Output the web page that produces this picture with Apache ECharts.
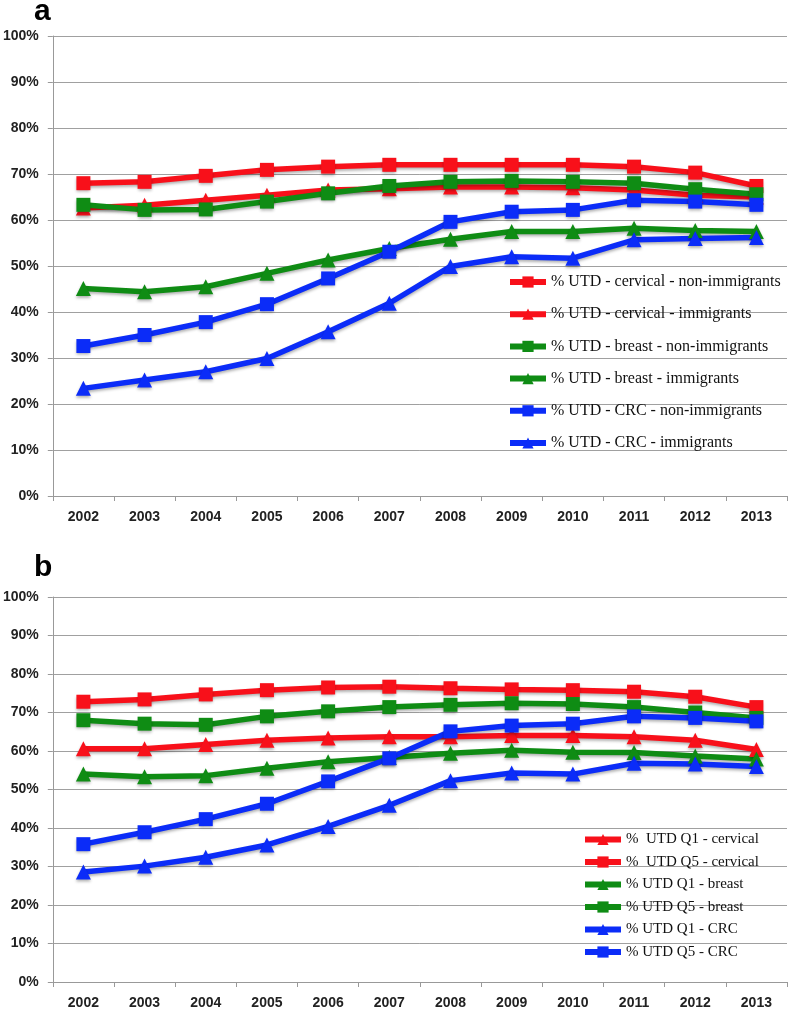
<!DOCTYPE html>
<html>
<head>
<meta charset="utf-8">
<script src="https://cdn.jsdelivr.net/npm/echarts@6/dist/echarts.min.js"></script>
<style>
html,body{margin:0;padding:0;background:#fff;}
#chart{width:788px;height:1010px;}
</style>
</head>
<body>
<div id="chart"></div>
<script>
const years = ['2002','2003','2004','2005','2006','2007','2008','2009','2010','2011','2012','2013'];

// Panel a
const namesA = ['% UTD - cervical - non-immigrants','% UTD - cervical - immigrants','% UTD - breast - non-immigrants','% UTD - breast - immigrants','% UTD - CRC - non-immigrants','% UTD - CRC - immigrants'];
const cervNonImm  = [68.0, 68.3, 69.6, 70.9, 71.6, 72.0, 72.0, 72.0, 72.0, 71.6, 70.3, 67.4];
const cervImm     = [62.6, 63.2, 64.3, 65.4, 66.5, 66.8, 67.2, 67.2, 67.0, 66.5, 65.4, 65.0];
const breastNonImm= [63.3, 62.2, 62.3, 64.0, 65.8, 67.4, 68.3, 68.5, 68.3, 68.0, 66.7, 65.6];
const breastImm   = [45.1, 44.4, 45.5, 48.4, 51.3, 53.8, 55.8, 57.5, 57.5, 58.2, 57.7, 57.5];
const crcNonImm   = [32.6, 35.0, 37.8, 41.7, 47.3, 53.1, 59.6, 61.8, 62.2, 64.3, 64.0, 63.3];
const crcImm      = [23.4, 25.2, 27.0, 29.9, 35.7, 41.9, 49.9, 52.0, 51.7, 55.7, 56.0, 56.2];

// Panel b
const namesB = ['%  UTD Q1 - cervical','%  UTD Q5 - cervical','% UTD Q1 - breast','% UTD Q5 - breast','% UTD Q1 - CRC','% UTD Q5 - CRC'];
const q1Cerv   = [60.6, 60.6, 61.7, 62.8, 63.4, 63.7, 63.7, 64.0, 64.0, 63.7, 62.8, 60.4];
const q5Cerv   = [72.8, 73.4, 74.7, 75.8, 76.5, 76.7, 76.3, 76.0, 75.8, 75.4, 74.1, 71.4];
const q1Breast = [54.0, 53.3, 53.6, 55.5, 57.2, 58.3, 59.4, 60.2, 59.7, 59.6, 58.7, 57.9];
const q5Breast = [68.0, 67.1, 66.8, 69.0, 70.3, 71.4, 72.0, 72.4, 72.2, 71.4, 70.0, 68.6];
const q1Crc    = [28.6, 30.1, 32.4, 35.6, 40.4, 45.9, 52.3, 54.3, 54.0, 56.8, 56.6, 56.0];
const q5Crc    = [35.8, 38.9, 42.3, 46.3, 52.1, 58.1, 65.1, 66.6, 67.1, 69.0, 68.6, 67.7];

const RED = '#f8101a', GREEN = '#0f8c14', BLUE = '#0b2cf8';

function mk(name, data, color, symbol, gi) {
  const isRect = symbol === 'rect';
  return {
    name, type: 'line', data, xAxisIndex: gi, yAxisIndex: gi,
    symbol, symbolSize: isRect ? 14 : 15,
    lineStyle: { color, width: 5.5, shadowColor: 'rgba(0,0,0,0.3)', shadowBlur: 3, shadowOffsetY: 2 },
    itemStyle: { color, shadowColor: 'rgba(0,0,0,0.3)', shadowBlur: 3, shadowOffsetY: 2 },
    emphasis: { disabled: true },
    animation: false
  };
}

const axisLabelFont = { fontFamily: 'Liberation Sans', fontWeight: 'bold', fontSize: 14, color: '#222' };

function xAx(gi) {
  return {
    type: 'category', gridIndex: gi, data: years, boundaryGap: true,
    axisLine: { show: true, lineStyle: { color: '#999', width: 1 } },
    axisTick: { show: true, length: 5, lineStyle: { color: '#999' } },
    axisLabel: Object.assign({ margin: 14 }, axisLabelFont),
    splitLine: { show: false }
  };
}
function yAx(gi) {
  return {
    type: 'value', gridIndex: gi, min: 0, max: 100, interval: 10,
    axisLine: { show: true, lineStyle: { color: '#999', width: 1 } },
    axisTick: { show: true, length: 5, lineStyle: { color: '#999' } },
    axisLabel: Object.assign({ margin: 14, formatter: '{value}%' }, axisLabelFont),
    splitLine: { show: true, lineStyle: { color: '#a0a0a0', width: 1 } }
  };
}

const option = {
  backgroundColor: '#fff',
  animation: false,
  graphic: [
    { type: 'text', left: 34, top: -3, style: { text: 'a', font: 'bold 30px "Liberation Sans"', fill: '#000' } },
    { type: 'text', left: 34, top: 553, style: { text: 'b', font: 'bold 30px "Liberation Sans"', fill: '#000' } }
  ],
  grid: [
    { left: 52, right: 1, top: 36, height: 460 },
    { left: 52, right: 1, top: 597, height: 389 }
  ],
  xAxis: [xAx(0), xAx(1)],
  yAxis: [yAx(0), yAx(1)],
  legend: [
    { data: namesA, orient: 'vertical', left: 507, top: 274, padding: 0, itemWidth: 36, itemHeight: 14, itemGap: 16.2,
      lineStyle: { width: 6 },
      textStyle: { fontFamily: 'Liberation Serif', fontSize: 16, color: '#111' }, selectedMode: false },
    { data: namesB, orient: 'vertical', left: 582, top: 832, padding: 0, itemWidth: 36, itemHeight: 14, itemGap: 7.5,
      lineStyle: { width: 6 },
      textStyle: { fontFamily: 'Liberation Serif', fontSize: 15, color: '#111' }, selectedMode: false }
  ],
  series: [
    mk(namesA[0], cervNonImm, RED, 'rect', 0),
    mk(namesA[1], cervImm, RED, 'triangle', 0),
    mk(namesA[2], breastNonImm, GREEN, 'rect', 0),
    mk(namesA[3], breastImm, GREEN, 'triangle', 0),
    mk(namesA[4], crcNonImm, BLUE, 'rect', 0),
    mk(namesA[5], crcImm, BLUE, 'triangle', 0),
    mk(namesB[0], q1Cerv, RED, 'triangle', 1),
    mk(namesB[1], q5Cerv, RED, 'rect', 1),
    mk(namesB[2], q1Breast, GREEN, 'triangle', 1),
    mk(namesB[3], q5Breast, GREEN, 'rect', 1),
    mk(namesB[4], q1Crc, BLUE, 'triangle', 1),
    mk(namesB[5], q5Crc, BLUE, 'rect', 1)
  ]
};

const chart = echarts.init(document.getElementById('chart'), null, { renderer: 'canvas' });
chart.setOption(option);
</script>
</body>
</html>
